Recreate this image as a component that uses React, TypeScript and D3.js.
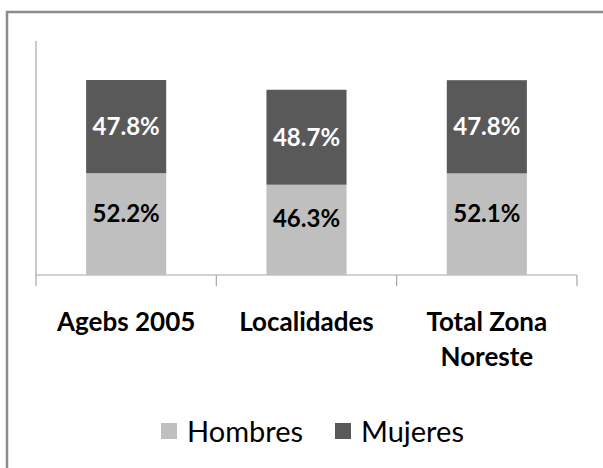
import React from "react";
import * as d3 from "d3";

const categories = ["Agebs 2005", "Localidades", "Total Zona Noreste"];
const hombres = [52.2, 46.3, 52.1];
const mujeres = [47.8, 48.7, 47.8];
const seriesNames = ["Hombres", "Mujeres"];
const seriesColors = ["#bfbfbf", "#595959"];
const labelColors = ["#000000", "#ffffff"];

const W = 603;
const H = 468;
const FONT = "Lato, 'Noto Sans', sans-serif";

function wrap(label: string, maxChars: number): string[] {
  const words = label.split(" ");
  const lines: string[] = [];
  let cur = "";
  for (const w of words) {
    const t = cur ? cur + " " + w : w;
    if (t.length > maxChars && cur) {
      lines.push(cur);
      cur = w;
    } else cur = t;
  }
  if (cur) lines.push(cur);
  return lines;
}

export default function App() {
  const x = d3.scaleBand<string>().domain(categories).range([36, 577]).padding(0);
  const y = d3.scaleLinear().domain([0, 120]).range([275, 41]);
  const bw = x.bandwidth() * 0.444;

  const rows = categories.map((c, i) => ({ cat: c, Hombres: hombres[i], Mujeres: mujeres[i] }));
  const stack = d3.stack<any>().keys(seriesNames)(rows);

  const boundaries = [...categories.map((c) => x(c) as number), x.range()[1]];

  return (
    <svg
      width={W}
      height={H}
      style={{ position: "absolute", left: 0, top: 0, background: "#fff" }}
      fontFamily={FONT}
    >
      <rect x={0} y={0} width={W} height={H} fill="#fff" />
      <rect x={7} y={12} width={W + 20} height={H + 20} fill="#fff" stroke="#8c8c8c" strokeWidth={2.5} />

      {/* y axis */}
      <line x1={36} x2={36} y1={y(120)} y2={y(0)} stroke="#a6a6a6" strokeWidth={1.2} />
      {/* x axis */}
      <line x1={36} x2={577} y1={y(0)} y2={y(0)} stroke="#a6a6a6" strokeWidth={1.2} />
      {boundaries.map((b, i) => (
        <line key={i} x1={b} x2={b} y1={y(0)} y2={y(0) + 11} stroke="#a6a6a6" strokeWidth={1.2} />
      ))}

      {stack.map((s, si) => (
        <g key={s.key}>
          {s.map((d, i) => {
            const cx = (x(categories[i]) as number) + x.bandwidth() / 2;
            const y0 = y(d[0]);
            const y1 = y(d[1]);
            const ly = (y0 + y1) / 2 - (si === 0 ? 11 : 0);
            const val = si === 0 ? hombres[i] : mujeres[i];
            return (
              <g key={i}>
                <rect x={cx - bw / 2} y={y1} width={bw} height={y0 - y1} fill={seriesColors[si]} />
                <text
                  x={cx}
                  y={ly}
                  dy="0.36em"
                  textAnchor="middle"
                  fontSize={24}
                  fontWeight="bold"
                  fill={labelColors[si]}
                >
                  {val.toFixed(1) + "%"}
                </text>
              </g>
            );
          })}
        </g>
      ))}

      {categories.map((c) => {
        const cx = (x(c) as number) + x.bandwidth() / 2;
        const lines = wrap(c, 12);
        return (
          <text key={c} textAnchor="middle" fontSize={26} fontWeight="bold" fill="#000">
            {lines.map((l, li) => (
              <tspan key={li} x={cx} y={331 + li * 35}>
                {l}
              </tspan>
            ))}
          </text>
        );
      })}

      {/* legend */}
      {seriesNames.map((n, i) => {
        const lx = [161, 335][i];
        return (
          <g key={n}>
            <rect x={lx} y={423} width={16} height={16} fill={seriesColors[i]} />
            <text x={lx + 26} y={442} fontSize={29} fill="#000">
              {n}
            </text>
          </g>
        );
      })}
    </svg>
  );
}
